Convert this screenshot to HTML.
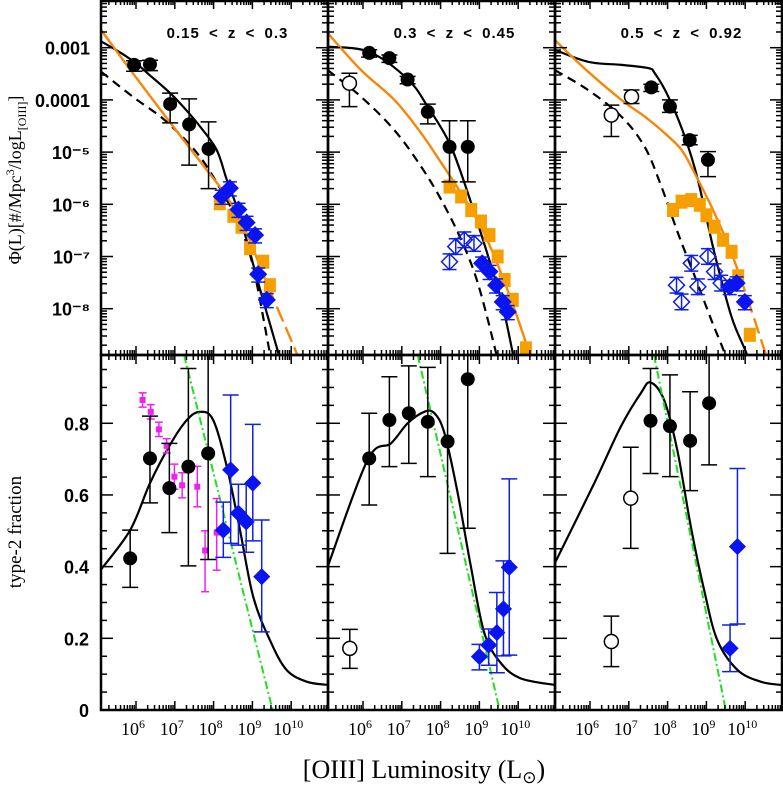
<!DOCTYPE html>
<html><head><meta charset="utf-8">
<style>
body{margin:0;background:#fff;}
svg{display:block;font-family:"Liberation Sans",sans-serif;}
</style></head>
<body>
<svg id="chart" width="783" height="785" viewBox="0 0 783 785" xmlns="http://www.w3.org/2000/svg">
<text x="424" y="778" text-anchor="middle" font-family="Liberation Serif, serif" font-size="26">[OIII] Luminosity (L<tspan font-size="17" dy="5">⊙</tspan><tspan dy="-5">)</tspan></text>
<text transform="translate(21,180) rotate(-90)" text-anchor="middle" font-family="Liberation Serif, serif" font-size="18">Φ(L)[#/Mpc<tspan font-size="12" dy="-7">3</tspan><tspan dy="7">/logL</tspan><tspan font-size="12" dy="5">[OIII]</tspan><tspan dy="-5">]</tspan></text>
<text transform="translate(21,532) rotate(-90)" text-anchor="middle" font-family="Liberation Serif, serif" font-size="19">type-2 fraction</text>
</svg>
<script>
// ===== data (log L, log Phi / fraction) =====
const panelLabels = ["0.15 < z < 0.3", "0.3 < z < 0.45", "0.5 < z < 0.92"];
const xTicks = [6, 7, 8, 9, 10];
const topYTicks = [-3, -4, -5, -6, -7, -8];
const topYLabels = ["0.001", "0.0001", "10⁻⁵", "10⁻⁶", "10⁻⁷", "10⁻⁸"];
const botYTicks = [0, 0.2, 0.4, 0.6, 0.8];
const botYLabels = ["0", "0.2", "0.4", "0.6", "0.8"];

const lfBlack = [
 [[5.95,-3.33,-3.45,-3.25],[6.36,-3.32,-3.44,-3.24],[6.88,-4.08,-4.44,-3.87],[7.37,-4.47,-5.25,-3.98],[7.87,-4.94,-5.70,-4.42]],
 [[6.16,-3.10,-3.18,-3.04],[6.68,-3.20,-3.28,-3.14],[7.15,-3.61,-3.69,-3.55],[7.67,-4.23,-4.46,-4.08],[8.23,-4.90,-5.57,-4.40],[8.70,-4.90,-5.57,-4.40]],
 [[7.58,-3.76,-3.84,-3.70],[8.06,-4.13,-4.24,-4.00],[8.57,-4.77,-4.86,-4.68],[9.04,-5.15,-5.47,-4.99]]
];
const lfOpen = [
 [],
 [[5.65,-3.68,-4.13,-3.49]],
 [[6.55,-4.29,-4.70,-4.10],[7.07,-3.94,-4.07,-3.81]]
];
const lfOrange = [
 [[8.16,-5.98],[8.51,-6.22],[8.72,-6.43],[8.94,-6.84],[9.28,-7.10],[9.45,-7.55]],
 [[8.23,-5.66],[8.53,-5.85],[8.79,-6.11],[9.04,-6.33],[9.26,-6.59],[9.47,-7.00],[9.65,-7.45],[9.86,-7.83],[10.2,-8.76]],
 [[8.14,-6.11],[8.36,-5.95],[8.61,-5.92],[8.83,-6.01],[9.0,-6.21],[9.21,-6.43],[9.43,-6.68],[9.65,-6.91],[9.82,-7.38],[10.12,-8.50]]
];
const lfBlue = [
 [[8.21,-5.85],[8.42,-5.69],[8.64,-6.10],[8.85,-6.35],[9.07,-6.59],[9.15,-7.34],[9.37,-7.83]],
 [[9.07,-7.13],[9.26,-7.29],[9.43,-7.55],[9.6,-7.87],[9.73,-8.06]],
 [[9.6,-7.58],[9.78,-7.51],[9.99,-7.87]]
];
const lfBlueOpen = [
 [],
 [[8.23,-7.10],[8.39,-6.81],[8.61,-6.68],[8.86,-6.75]],
 [[8.23,-7.55],[8.36,-7.87],[8.61,-7.13],[8.78,-7.58],[9.04,-7.0],[9.21,-7.29],[9.38,-7.51]]
];
const lfModelSolid = [
 [[5.1,-2.88],[5.5,-3.05],[5.95,-3.27],[6.36,-3.53],[6.88,-3.87],[7.3,-4.2],[7.65,-4.51],[8.08,-4.96],[8.34,-5.53],[8.68,-6.24],[9.2,-7.64],[9.67,-8.85],[9.8,-9.2]],
 [[5.09,-2.98],[6.16,-3.08],[7.15,-3.60],[7.67,-4.13],[8.19,-4.77],[8.53,-5.41],[9.04,-6.56],[9.56,-7.83],[9.86,-8.85],[9.95,-9.2]],
 [[5.09,-3.04],[5.95,-3.27],[6.81,-3.33],[7.5,-3.39],[7.67,-3.49],[8.02,-3.94],[8.44,-4.70],[8.78,-5.53],[9.21,-6.94],[9.65,-8.16],[10.03,-8.85],[10.15,-9.2]]
];
const lfModelDashed = [
 [[5.1,-3.46],[5.92,-3.94],[6.79,-4.42],[7.65,-5.09],[8.34,-5.92],[8.68,-6.43],[9.02,-7.2],[9.45,-8.85],[9.55,-9.2]],
 [[5.09,-3.43],[5.95,-3.94],[6.81,-4.58],[7.50,-5.28],[8.02,-5.92],[8.53,-6.68],[8.96,-7.51],[9.43,-8.85],[9.52,-9.2]],
 [[5.09,-3.43],[5.95,-3.81],[6.81,-4.32],[7.41,-4.90],[7.84,-5.66],[8.27,-6.56],[8.70,-7.38],[9.13,-8.22],[9.47,-8.85],[9.6,-9.2]]
];
const lfModelOrange = [
 [[5.1,-2.66],[5.92,-3.49],[6.96,-4.51],[7.82,-5.34],[8.34,-5.85],[8.85,-6.55],[9.37,-7.51],[10.14,-8.85],[10.3,-9.2]],
 [[5.09,-2.72],[5.95,-3.43],[6.81,-4.0],[7.50,-4.64],[8.02,-5.21],[8.53,-5.79],[9.04,-6.43],[9.56,-7.32],[10.15,-8.54],[10.4,-9.2]],
 [[5.09,-2.85],[5.95,-3.46],[6.81,-4.0],[7.41,-4.32],[7.93,-4.64],[8.36,-4.96],[8.70,-5.41],[9.21,-6.17],[9.65,-6.94],[10.07,-7.83],[10.52,-8.85],[10.65,-9.2]]
];
const orangeDashFrom = [9.4, 11, 9.65];

const frBlack = [
 [[5.85,0.423,0.342,0.502],[6.36,0.702,0.578,0.82],[6.86,0.619,0.495,0.744],[7.35,0.679,0.402,0.953],[7.86,0.716,0.42,1.0]],
 [[6.16,0.702,0.572,0.828],[6.68,0.809,0.679,0.93],[7.18,0.828,0.688,0.96],[7.67,0.804,0.651,0.956],[8.18,0.749,0.437,1.0],[8.70,0.923,0.507,1.0]],
 [[7.56,0.807,0.660,0.953],[8.06,0.792,0.651,0.935],[8.58,0.751,0.612,0.888],[9.07,0.856,0.684,1.0]]
];
const frOpen = [
 [],
 [[5.66,0.172,0.116,0.225]],
 [[6.55,0.191,0.121,0.262],[7.05,0.591,0.451,0.733]]
];
const frMagenta = [
 [[6.17,0.865,0.845,0.885],[6.38,0.832,0.812,0.852],[6.59,0.783,0.763,0.803],[6.79,0.737,0.717,0.757],[6.99,0.651,0.616,0.686],[7.19,0.627,0.592,0.662],[7.58,0.623,0.567,0.68],[7.78,0.445,0.33,0.5],[8.08,0.495,0.39,0.59]],
 [],[]
];
const frBlue = [
 [[8.25,0.502,0.426,0.58],[8.44,0.670,0.465,0.879],[8.64,0.549,0.46,0.63],[8.84,0.525,0.44,0.63],[9.01,0.633,0.472,0.797],[9.24,0.372,0.218,0.53]],
 [[9.0,0.149,0.112,0.183],[9.24,0.181,0.125,0.226],[9.45,0.216,0.104,0.328],[9.62,0.282,0.151,0.416],[9.77,0.398,0.153,0.645]],
 [[9.61,0.172,0.107,0.237],[9.80,0.456,0.240,0.674]]
];
const frModel = [
 [[5.09,0.391],[5.85,0.502],[6.36,0.633],[6.86,0.737],[7.31,0.809],[7.65,0.832],[7.99,0.809],[8.34,0.679],[8.68,0.502],[9.02,0.316],[9.45,0.195],[9.88,0.112],[10.4,0.079],[10.95,0.07]],
 [[5.09,0.4],[6.12,0.698],[6.72,0.744],[7.15,0.8],[7.58,0.832],[7.84,0.828],[8.10,0.772],[8.44,0.605],[8.78,0.4],[9.13,0.214],[9.56,0.130],[10.07,0.088],[10.93,0.07]],
 [[5.09,0.409],[6.11,0.633],[6.79,0.790],[7.31,0.884],[7.56,0.914],[7.91,0.865],[8.25,0.725],[8.60,0.511],[8.94,0.335],[9.28,0.195],[9.80,0.112],[10.40,0.079],[10.92,0.07]]
];
const frGreen = [
 [[7.24,0.99],[9.52,0.0]],
 [[7.41,0.99],[9.52,0.0]],
 [[7.65,0.99],[9.50,0.0]]
];

const svg = document.getElementById('chart');
const NS = 'http://www.w3.org/2000/svg';
const PL = 101, PW = 227, TOP = 0, MID = 355, BOT = 710;
function xS(p, l){ return PL + p*PW + 35 + (l-6)*38.8; }
function yTop(v){ return 47.7 + (-3 - v)*52.2; }
function yBot(f){ return BOT - f*358.4; }
function mk(tag, attrs, parent){
  const e = document.createElementNS(NS, tag);
  for (const k in attrs) e.setAttribute(k, attrs[k]);
  (parent||svg).appendChild(e);
  return e;
}
function smooth(pts){
  let d = 'M'+pts[0][0].toFixed(1)+','+pts[0][1].toFixed(1);
  for (let i=0;i<pts.length-1;i++){
    const p0=pts[Math.max(0,i-1)], p1=pts[i], p2=pts[i+1], p3=pts[Math.min(pts.length-1,i+2)];
    const c1x=p1[0]+(p2[0]-p0[0])/6, c1y=p1[1]+(p2[1]-p0[1])/6;
    const c2x=p2[0]-(p3[0]-p1[0])/6, c2y=p2[1]-(p3[1]-p1[1])/6;
    d+=' C'+c1x.toFixed(1)+','+c1y.toFixed(1)+' '+c2x.toFixed(1)+','+c2y.toFixed(1)+' '+p2[0].toFixed(1)+','+p2[1].toFixed(1);
  }
  return d;
}
const defs = mk('defs', {});
for (let p=0;p<3;p++){
  for (const [nm,y0,y1] of [['t',TOP,MID],['b',MID,BOT]]){
    const cp = mk('clipPath', {id:'clip'+nm+p}, defs);
    mk('rect', {x:PL+p*PW, y:y0, width:PW, height:y1-y0}, cp);
  }
}
function errBar(g, x, ylo, yhi, color, cap){
  mk('line',{x1:x,x2:x,y1:ylo,y2:yhi,stroke:color,'stroke-width':1.5},g);
  mk('line',{x1:x-cap,x2:x+cap,y1:ylo,y2:ylo,stroke:color,'stroke-width':1.5},g);
  mk('line',{x1:x-cap,x2:x+cap,y1:yhi,y2:yhi,stroke:color,'stroke-width':1.5},g);
}
function diamond(g, x, y, r, fill, stroke){
  return mk('path',{d:`M${x},${y-r} L${x+r},${y} L${x},${y+r} L${x-r},${y} Z`,fill:fill,stroke:stroke,'stroke-width':1.5},g);
}

for (let p=0;p<3;p++){
  const x0 = PL+p*PW;
  const gt = mk('g',{'clip-path':'url(#clipt'+p+')'});
  
  
  const toPts = (arr,yf)=>arr.map(d=>[xS(p,d[0]),yf(d[1])]);
  let e;
  e = mk('path',{d:smooth(toPts(lfModelDashed[p],yTop)),fill:'none',stroke:'#000','stroke-width':2.2,'stroke-dasharray':'9,6'},gt);
  
  
  e = mk('path',{d:smooth(toPts(lfModelSolid[p],yTop)),fill:'none',stroke:'#000','stroke-width':2.2},gt);
  
  
  const om = lfModelOrange[p];
  e = mk('path',{d:smooth(toPts(om,yTop)),fill:'none',stroke:'#f7870a','stroke-width':2.4},gt);
  
  
  if (orangeDashFrom[p] < 11){
    const clipId='odash'+p;
    const cp = mk('clipPath',{id:clipId},defs);
    mk('rect',{x:xS(p,orangeDashFrom[p]),y:0,width:400,height:MID},cp);
    const g2 = mk('g',{'clip-path':'url(#'+clipId+')'},gt);
    mk('path',{d:smooth(toPts(om,yTop)),fill:'none',stroke:'#fff','stroke-width':3.5,'stroke-dasharray':'0,16,6,0'},g2);
  }
  for (const d of lfOrange[p]){
    const x=xS(p,d[0]), y=yTop(d[1]);
    const g = mk('g',{},gt);
    
    
    errBar(g,x,yTop(d[1]-0.12),yTop(d[1]+0.12),'#f5a000',6);
    mk('rect',{x:x-6,y:y-6,width:12,height:12,fill:'#f5a000'},g);
  }
  for (const d of lfBlueOpen[p]){
    const x=xS(p,d[0]), y=yTop(d[1]);
    const g = mk('g',{},gt);
    
    
    errBar(g,x,yTop(d[1]-0.15),yTop(d[1]+0.15),'#1020e0',7);
    diamond(g,x,y,8,'none','#1020e0');
  }
  for (const d of lfBlue[p]){
    const x=xS(p,d[0]), y=yTop(d[1]);
    const g = mk('g',{},gt);
    
    
    errBar(g,x,yTop(d[1]-0.15),yTop(d[1]+0.12),'#1020e0',7);
    diamond(g,x,y,8,'#0a14f0','#0a14f0');
  }
  for (const d of lfBlack[p]){
    const x=xS(p,d[0]);
    const g = mk('g',{},gt);
    
    
    errBar(g,x,yTop(d[2]),yTop(d[3]),'#000',8);
    mk('circle',{cx:x,cy:yTop(d[1]),r:7,fill:'#000'},g);
  }
  for (const d of lfOpen[p]){
    const x=xS(p,d[0]);
    const g = mk('g',{},gt);
    
    
    errBar(g,x,yTop(d[2]),yTop(d[3]),'#000',8);
    mk('circle',{cx:x,cy:yTop(d[1]),r:7,fill:'#fff',stroke:'#000','stroke-width':1.5},g);
  }
  e = mk('text',{x:x0+PW/2+13,y:38,'text-anchor':'middle','font-size':15,'font-weight':'bold','letter-spacing':'1','word-spacing':'4'});
  e.textContent = panelLabels[p];
  
  

  const gb = mk('g',{'clip-path':'url(#clipb'+p+')'});
  
  
  e = mk('path',{d:smooth(toPts(frModel[p],yBot)),fill:'none',stroke:'#000','stroke-width':2.2},gb);
  
  
  const gr = frGreen[p];
  e = mk('line',{x1:xS(p,gr[0][0]),y1:yBot(gr[0][1]),x2:xS(p,gr[1][0]),y2:yBot(gr[1][1]),stroke:'#22dd22','stroke-width':2,'stroke-dasharray':'8,3,2,3'},gb);
  
  
  for (const d of frMagenta[p]){
    const x=xS(p,d[0]);
    const g = mk('g',{},gb);
    
    
    errBar(g,x,yBot(d[2]),yBot(d[3]),'#ee22ee',4);
    mk('rect',{x:x-3,y:yBot(d[1])-3,width:6,height:6,fill:'#ee22ee'},g);
  }
  for (const d of frBlue[p]){
    const x=xS(p,d[0]);
    const g = mk('g',{},gb);
    
    
    errBar(g,x,yBot(d[2]),yBot(d[3]),'#1020e0',8);
    diamond(g,x,yBot(d[1]),7.5,'#0a14f0','#0a14f0');
  }
  for (const d of frBlack[p]){
    const x=xS(p,d[0]);
    const g = mk('g',{},gb);
    
    
    errBar(g,x,yBot(d[2]),yBot(d[3]),'#000',8);
    mk('circle',{cx:x,cy:yBot(d[1]),r:7,fill:'#000'},g);
  }
  for (const d of frOpen[p]){
    const x=xS(p,d[0]);
    const g = mk('g',{},gb);
    
    
    errBar(g,x,yBot(d[2]),yBot(d[3]),'#000',8);
    mk('circle',{cx:x,cy:yBot(d[1]),r:7,fill:'#fff',stroke:'#000','stroke-width':1.5},g);
  }

  const gtk = mk('g',{stroke:'#000','stroke-width':1.5});
  
  
  for (let dec=5; dec<=10; dec++){
    for (let m=1;m<=9;m++){
      const l = dec+Math.log10(m);
      const x = xS(p,l);
      if (x<x0+0.5 || x>x0+PW-0.5) continue;
      const len = m===1?9:5;
      for (const yy of [TOP,MID,BOT]){
        if (yy!==TOP) mk('line',{x1:x,x2:x,y1:yy,y2:yy-len},gtk);
        if (yy!==BOT) mk('line',{x1:x,x2:x,y1:yy,y2:yy+len},gtk);
      }
    }
  }
  for (let dec=-9; dec<=-2; dec++){
    for (let m=1;m<=9;m++){
      const y = yTop(dec+Math.log10(m));
      if (y<1 || y>MID-1) continue;
      const len = m===1?12:6;
      mk('line',{x1:x0,x2:x0+len,y1:y,y2:y},gtk);
      mk('line',{x1:x0+PW,x2:x0+PW-len,y1:y,y2:y},gtk);
    }
  }
  for (let i=1;i<20;i++){
    const f=i*0.05, y=yBot(f);
    if (y<MID+1) continue;
    const len = (i%4===0)?12:6;
    mk('line',{x1:x0,x2:x0+len,y1:y,y2:y},gtk);
    mk('line',{x1:x0+PW,x2:x0+PW-len,y1:y,y2:y},gtk);
  }
  for (const t of xTicks){
    const x = xS(p,t);
    e = mk('text',{x:x-3,y:735,'text-anchor':'middle','font-family':'Liberation Serif, serif','font-size':18});
    e.innerHTML = '10<tspan font-size="12" dy="-7">'+t+'</tspan>';
    
    
  }
}
for (const [y0,y1,nm] of [[TOP,MID,'top'],[MID,BOT,'bottom']]){
  for (let p=0;p<3;p++){
    const r = mk('rect',{x:PL+p*PW,y:y0+(y0===0?1:0),width:PW,height:y1-y0-(y0===0?1:0),fill:'none',stroke:'#000','stroke-width':2.5});
    
    
  }
}
topYTicks.forEach((t,i)=>{
  const e = mk('text',{x:90,y:yTop(t)+7,'text-anchor':'end','font-size':18,'font-weight':'bold'});
  e.textContent = topYLabels[i];
  
  
});
botYTicks.forEach((t,i)=>{
  const e = mk('text',{x:89,y:yBot(t)+7,'text-anchor':'end','font-size':18,'font-weight':'bold'});
  e.textContent = botYLabels[i];
  
  
});
</script>
</body></html>
